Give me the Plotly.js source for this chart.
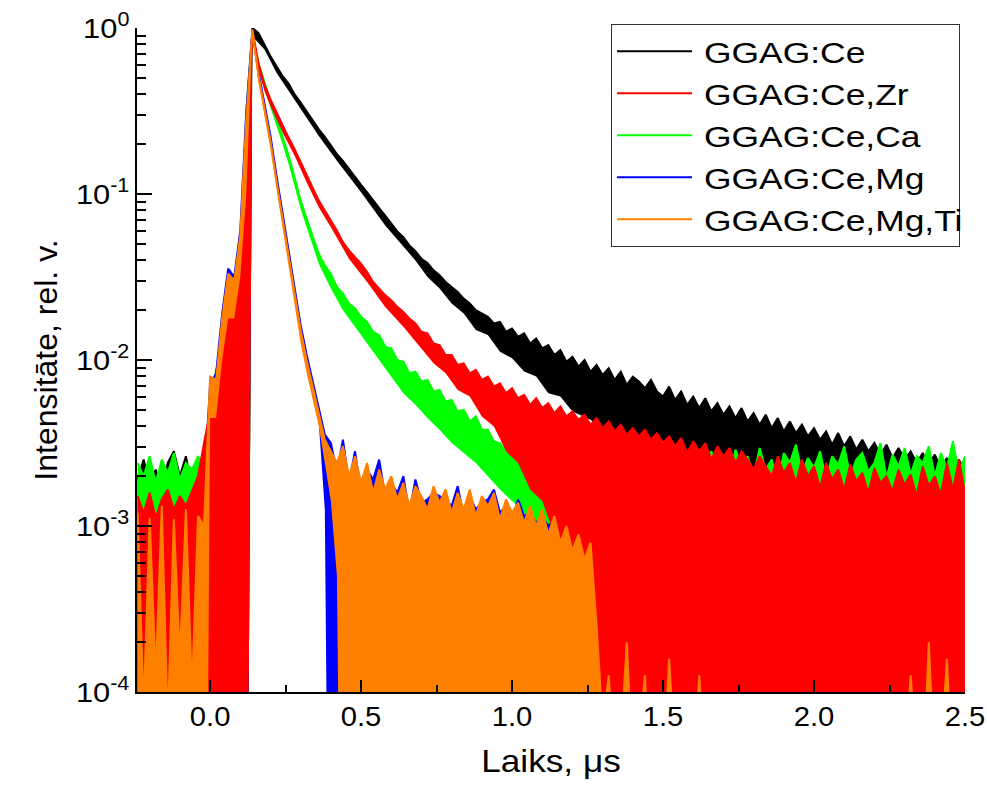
<!DOCTYPE html>
<html><head><meta charset="utf-8">
<script src="https://cdn.plot.ly/plotly-3.0.1.min.js"></script>
<style>html,body{margin:0;padding:0;background:#fff}#chart{width:987px;height:789px}</style>
</head><body><div id="chart"></div>
<script>
// shared time axis (μs)
const time = [-0.24,-0.22,-0.20,-0.18,-0.16,-0.14,-0.12,-0.10,-0.08,-0.06,
-0.04,-0.02,0.00,0.02,0.04,0.06,0.08,0.10,0.12,0.14,
0.16,0.18,0.20,0.22,0.24,0.26,0.28,0.30,0.32,0.34,
0.36,0.38,0.40,0.42,0.44,0.46,0.48,0.50,0.52,0.54,
0.56,0.58,0.60,0.62,0.64,0.66,0.68,0.70,0.72,0.74,
0.76,0.78,0.80,0.82,0.84,0.86,0.88,0.90,0.92,0.94,
0.96,0.98,1.00,1.02,1.04,1.06,1.08,1.10,1.12,1.14,
1.16,1.18,1.20,1.22,1.24,1.26,1.28,1.30,1.32,1.34,
1.36,1.38,1.40,1.42,1.44,1.46,1.48,1.50,1.52,1.54,
1.56,1.58,1.60,1.62,1.64,1.66,1.68,1.70,1.72,1.74,
1.76,1.78,1.80,1.82,1.84,1.86,1.88,1.90,1.92,1.94,
1.96,1.98,2.00,2.02,2.04,2.06,2.08,2.10,2.12,2.14,
2.16,2.18,2.20,2.22,2.24,2.26,2.28,2.30,2.32,2.34,
2.36,2.38,2.40,2.42,2.44,2.46,2.48,2.50];

const seriesNames = ['GGAG:Ce','GGAG:Ce,Zr','GGAG:Ce,Ca','GGAG:Ce,Mg','GGAG:Ce,Mg,Ti'];
const seriesColors = ['#000000','#ff0000','#00ff00','#0000ff','#ff8000'];

// upper edge of each noisy trace, log10 of intensity
const blackTopExp = [-2.72,-2.60,-2.75,-2.66,-2.80,-2.62,-2.55,-2.70,-2.58,-2.76,
-2.64,-2.70,-2.60,-2.50,-2.40,-2.20,-2.00,-1.80,-1.00,0.00,
-0.03,-0.10,-0.17,-0.23,-0.29,-0.335,-0.40,-0.45,-0.505,-0.56,
-0.61,-0.655,-0.705,-0.76,-0.80,-0.85,-0.90,-0.945,-0.99,-1.04,
-1.085,-1.13,-1.175,-1.225,-1.26,-1.31,-1.345,-1.39,-1.415,-1.46,
-1.49,-1.53,-1.56,-1.59,-1.63,-1.66,-1.70,-1.72,-1.74,-1.78,
-1.77,-1.83,-1.81,-1.86,-1.84,-1.90,-1.87,-1.93,-1.91,-1.97,
-1.94,-2.01,-1.98,-2.04,-2.00,-2.07,-2.03,-2.09,-2.05,-2.12,
-2.07,-2.15,-2.10,-2.13,-2.17,-2.12,-2.19,-2.22,-2.16,-2.24,
-2.19,-2.27,-2.22,-2.29,-2.23,-2.31,-2.26,-2.33,-2.28,-2.35,
-2.29,-2.37,-2.32,-2.39,-2.33,-2.41,-2.35,-2.43,-2.37,-2.44,
-2.39,-2.46,-2.41,-2.48,-2.43,-2.51,-2.44,-2.52,-2.46,-2.54,
-2.48,-2.55,-2.50,-2.57,-2.51,-2.59,-2.53,-2.60,-2.55,-2.62,
-2.56,-2.63,-2.57,-2.65,-2.59,-2.66,-2.60,-2.67];
const blackLowTime = [-0.24,0.125,0.14,0.18,0.22,0.26,0.30,0.36,0.42,0.50,0.58,0.64,0.68,0.72,0.76,0.80,0.84,0.88,0.92,0.96,1.00,1.04,1.08,1.12,1.16,1.20,1.26,1.32,1.40,1.50,1.70,2.00,2.50];
const blackLowExp = [-5,-5,-0.05,-0.13,-0.27,-0.38,-0.49,-0.65,-0.80,-0.99,-1.19,-1.32,-1.40,-1.50,-1.57,-1.66,-1.72,-1.82,-1.85,-1.95,-1.99,-2.07,-2.10,-2.20,-2.22,-2.31,-2.36,-2.45,-2.50,-2.62,-2.75,-2.90,-3.10];

const redTopExp = [-2.82,-2.92,-2.80,-2.95,-2.84,-2.78,-2.90,-2.82,-2.88,-2.79,
-2.70,-2.50,-2.30,-2.12,-1.95,-1.72,-1.66,-1.38,-0.80,-0.01,
-0.21,-0.34,-0.43,-0.51,-0.59,-0.66,-0.73,-0.81,-0.89,-0.97,
-1.04,-1.10,-1.16,-1.22,-1.29,-1.34,-1.38,-1.42,-1.47,-1.53,
-1.57,-1.61,-1.64,-1.68,-1.71,-1.75,-1.78,-1.83,-1.84,-1.90,
-1.91,-1.97,-1.97,-2.03,-2.02,-2.08,-2.06,-2.12,-2.10,-2.16,
-2.14,-2.20,-2.17,-2.23,-2.21,-2.27,-2.23,-2.29,-2.26,-2.32,
-2.28,-2.34,-2.31,-2.36,-2.33,-2.39,-2.35,-2.41,-2.37,-2.43,
-2.39,-2.45,-2.41,-2.46,-2.42,-2.48,-2.44,-2.50,-2.46,-2.52,
-2.47,-2.56,-2.49,-2.55,-2.50,-2.60,-2.52,-2.58,-2.53,-2.62,
-2.55,-2.60,-2.66,-2.58,-2.64,-2.70,-2.58,-2.68,-2.62,-2.74,
-2.60,-2.70,-2.64,-2.77,-2.62,-2.72,-2.66,-2.78,-2.63,-2.73,
-2.68,-2.80,-2.65,-2.74,-2.70,-2.79,-2.66,-2.75,-2.69,-2.82,
-2.64,-2.76,-2.70,-2.81,-2.62,-2.78,-2.60,-2.80];
const redLowTime = [-0.24,0.125,0.14,0.16,0.18,0.20,0.24,0.28,0.32,0.36,0.40,0.46,0.52,0.58,0.64,0.70,0.74,0.78,0.82,0.86,0.90,0.94,0.98,1.02,1.06,1.10,1.14,1.18,1.22,1.25,1.27,2.50];
const redLowExp = [-5,-5,-0.05,-0.25,-0.38,-0.47,-0.63,-0.77,-0.93,-1.08,-1.20,-1.39,-1.53,-1.68,-1.80,-1.93,-2.02,-2.08,-2.18,-2.22,-2.34,-2.40,-2.55,-2.62,-2.78,-2.85,-3.05,-3.20,-3.50,-4.20,-5,-5];

const greenTopExp = [-2.62,-2.70,-2.58,-2.74,-2.60,-2.68,-2.56,-2.72,-2.62,-2.66,
-2.58,-2.64,-2.40,-2.05,-2.20,-1.95,-1.85,-1.60,-0.50,-0.04,
-0.21,-0.33,-0.44,-0.54,-0.65,-0.77,-0.90,-1.04,-1.15,-1.26,
-1.36,-1.43,-1.48,-1.56,-1.60,-1.66,-1.69,-1.74,-1.77,-1.83,
-1.85,-1.92,-1.93,-2.00,-2.01,-2.08,-2.07,-2.13,-2.12,-2.19,
-2.18,-2.25,-2.24,-2.31,-2.30,-2.37,-2.34,-2.42,-2.42,-2.49,
-2.50,-2.55,-2.55,-2.60,-2.56,-2.62,-2.58,-2.48,-2.60,-2.66,
-2.55,-2.70,-2.58,-2.64,-2.52,-2.72,-2.60,-2.56,-2.68,-2.53,
-2.62,-2.70,-2.57,-2.66,-2.50,-2.74,-2.59,-2.63,-2.55,-2.71,
-2.58,-2.66,-2.52,-2.70,-2.60,-2.55,-2.68,-2.57,-2.72,-2.54,
-2.64,-2.58,-2.70,-2.53,-2.66,-2.60,-2.74,-2.56,-2.62,-2.51,
-2.68,-2.59,-2.65,-2.55,-2.72,-2.58,-2.63,-2.52,-2.70,-2.60,
-2.56,-2.67,-2.62,-2.50,-2.71,-2.57,-2.64,-2.53,-2.69,-2.58,
-2.62,-2.52,-2.70,-2.56,-2.65,-2.49,-2.68,-2.58];
const greenLowTime = [-0.24,0.125,0.14,0.16,0.18,0.20,0.22,0.24,0.26,0.28,0.30,0.32,0.34,0.36,0.40,0.44,0.48,0.52,0.56,0.60,0.64,0.68,0.72,0.76,0.80,0.84,0.88,0.92,0.96,1.00,1.04,1.08,1.12,2.50];
const greenLowExp = [-5,-5,-0.08,-0.25,-0.37,-0.48,-0.58,-0.70,-0.82,-0.95,-1.09,-1.20,-1.31,-1.42,-1.57,-1.70,-1.80,-1.90,-2.00,-2.10,-2.20,-2.27,-2.35,-2.42,-2.50,-2.56,-2.62,-2.70,-2.78,-2.85,-2.92,-3.10,-5,-5];

const blueTopExp = [-2.95,-3.02,-2.90,-3.08,-2.94,-2.88,-3.00,-2.92,-3.04,-2.90,
-2.96,-2.75,-2.15,-2.08,-1.72,-1.45,-1.50,-1.22,-0.50,-0.01,
-0.26,-0.45,-0.65,-0.89,-1.12,-1.34,-1.56,-1.79,-1.97,-2.13,
-2.27,-2.45,-2.50,-2.68,-2.48,-2.74,-2.55,-2.80,-2.66,-2.72,
-2.60,-2.82,-2.74,-2.80,-2.70,-2.92,-2.72,-2.86,-2.84,-2.80,
-2.82,-2.84,-2.88,-2.76,-2.94,-2.82,-2.90,-2.86,-2.84,-2.78,
-2.92,-2.88,-2.96,-2.84,-2.94,-2.92,-2.98,-2.94,-3.00,-2.96,
-3.05,-3.04,-3.12,-3.10,-3.18,-3.14,-3.35,-3.34,-3.45,-3.44,
-3.50,-3.42,-3.58,-3.48,-3.62,-3.46,-3.56,-3.60,-3.48,-3.64,
-3.50,-3.58,-3.46,-3.62,-3.52,-3.68,-3.48,-3.60,-3.54,-3.66,
-3.52,-3.64,-3.48,-3.58,-3.56,-3.70,-3.50,-3.62,-3.55,-3.67,
-3.53,-3.60,-3.48,-3.68,-3.56,-3.62,-3.51,-3.66,-3.58,-3.64,
-3.50,-3.68,-3.54,-3.60,-3.56,-3.72,-3.52,-3.64,-3.58,-3.66,
-3.54,-3.62,-3.50,-3.68,-3.56,-3.64,-3.53,-3.60];
const blueLowTime = [-0.24,0.125,0.14,0.16,0.18,0.20,0.22,0.24,0.26,0.28,0.30,0.32,0.34,0.36,0.38,0.39,2.50];
const blueLowExp = [-5,-5,-0.05,-0.31,-0.50,-0.70,-0.94,-1.17,-1.39,-1.62,-1.87,-2.05,-2.22,-2.38,-2.90,-5,-5];

const orangeTopExp = [-2.92,-4.10,-2.95,-3.90,-2.88,-4.20,-2.96,-3.80,-2.90,-4.00,
-2.94,-3.00,-2.10,-2.12,-1.75,-1.48,-1.52,-1.25,-0.55,-0.01,
-0.28,-0.48,-0.68,-0.92,-1.15,-1.37,-1.59,-1.82,-2.00,-2.16,
-2.30,-2.48,-2.55,-2.62,-2.52,-2.70,-2.58,-2.74,-2.62,-2.80,
-2.66,-2.78,-2.70,-2.84,-2.74,-2.88,-2.76,-2.82,-2.90,-2.76,
-2.86,-2.78,-2.92,-2.80,-2.90,-2.78,-2.94,-2.82,-2.88,-2.80,
-2.96,-2.84,-2.92,-2.86,-2.98,-2.88,-3.00,-2.90,-3.05,-2.94,
-3.10,-3.00,-3.15,-3.05,-3.20,-3.10,-3.60,-4.20,-3.90,-4.40,
-4.30,-3.70,-4.50,-4.30,-3.90,-4.60,-4.40,-4.50,-3.80,-4.40,
-4.60,-4.30,-4.50,-3.90,-4.60,-4.40,-4.50,-4.30,-4.60,-4.50,
-4.40,-4.60,-4.50,-4.30,-4.60,-4.40,-4.50,-4.60,-4.40,-4.50,
-4.60,-4.30,-4.50,-4.60,-4.40,-4.50,-4.60,-4.40,-4.50,-4.60,
-4.40,-4.50,-4.60,-4.40,-4.50,-4.30,-4.60,-4.50,-3.90,-4.40,
-4.60,-3.70,-4.50,-4.40,-3.80,-4.60,-4.50,-4.40];
const orangeLowTime = [-0.24,-0.01,0.00,0.02,0.04,0.06,0.08,0.10,0.12,0.14,0.16,0.18,0.20,0.22,0.24,0.26,0.28,0.30,0.32,0.34,0.36,0.38,0.40,0.42,0.43,2.50];
const orangeLowExp = [-5,-5,-2.35,-2.35,-2.00,-1.75,-1.75,-1.50,-1.00,-0.05,-0.33,-0.53,-0.73,-0.97,-1.20,-1.42,-1.65,-1.90,-2.08,-2.25,-2.40,-2.62,-2.85,-3.30,-5,-5];

// axis ticks
const xTickVals = [0, 0.5, 1.0, 1.5, 2.0, 2.5];
const xTickText = ['0.0','0.5','1.0','1.5','2.0','2.5'];
const xMinorVals = [-0.25, 0.25, 0.75, 1.25, 1.75, 2.25];
const yTickVals = [1e-4, 1e-3, 1e-2, 1e-1, 1];
const yTickText = ['10<sup>-4</sup>','10<sup>-3</sup>','10<sup>-2</sup>','10<sup>-1</sup>','10<sup>0</sup>'];
const yMinorVals = [];
[1e-4, 1e-3, 1e-2, 1e-1].forEach(d => { for (let m = 2; m <= 9; m++) yMinorVals.push(d * m); });

const toVal = a => a.map(e => Math.pow(10, e));

function seriesTraces(i, topExp, lowTime, lowExp, rank) {
  const color = seriesColors[i];
  const top = toVal(topExp);
  return [
    {x: lowTime, y: toVal(lowExp), mode: 'lines', line: {width: 0, color: color}, showlegend: false, hoverinfo: 'skip'},
    {x: time, y: top, mode: 'lines', line: {width: 0, color: color}, fill: 'tonexty', fillcolor: color, showlegend: false, hoverinfo: 'skip'},
    {x: time, y: top, mode: 'lines', line: {width: 2, color: color}, name: seriesNames[i], legendrank: rank}
  ];
}

// drawing order: black, green, blue, red, orange on top
const data = [].concat(
  seriesTraces(0, blackTopExp, blackLowTime, blackLowExp, 1),
  seriesTraces(2, greenTopExp, greenLowTime, greenLowExp, 3),
  seriesTraces(3, blueTopExp, blueLowTime, blueLowExp, 4),
  seriesTraces(1, redTopExp, redLowTime, redLowExp, 2),
  seriesTraces(4, orangeTopExp, orangeLowTime, orangeLowExp, 5)
);

const layout = {
  width: 987, height: 789,
  paper_bgcolor: '#fff', plot_bgcolor: '#fff',
  font: {family: 'Arial, "Liberation Sans", sans-serif', color: '#000'},
  margin: {l: 137, r: 22, t: 28, b: 97},
  showlegend: true,
  xaxis: {
    range: [-0.242, 2.5], tickmode: 'array', tickvals: xTickVals, ticktext: xTickText,
    ticks: 'inside', ticklen: 12, tickwidth: 2, tickcolor: '#000',
    showline: true, linewidth: 2, linecolor: '#000', showgrid: false, zeroline: false,
    tickfont: {size: 27},
    minor: {tickmode: 'array', tickvals: xMinorVals, ticks: 'inside', ticklen: 7, tickwidth: 2, tickcolor: '#000', showgrid: false},
    title: {text: 'Laiks, μs', font: {size: 32}, standoff: 18}
  },
  yaxis: {
    type: 'log', range: [-4, 0], tickmode: 'array', tickvals: yTickVals, ticktext: yTickText,
    ticks: 'inside', ticklen: 15, tickwidth: 2, tickcolor: '#000',
    showline: true, linewidth: 2, linecolor: '#000', showgrid: false, zeroline: false,
    tickfont: {size: 28},
    minor: {tickmode: 'array', tickvals: yMinorVals, ticks: 'inside', ticklen: 9, tickwidth: 2, tickcolor: '#000', showgrid: false},
    title: {text: 'Intensitāte, rel. v.', font: {size: 32}, standoff: 14}
  },
  legend: {
    x: 0.994, xanchor: 'right', y: 1.006, yanchor: 'top',
    traceorder: 'normal',
    bgcolor: '#fff', bordercolor: '#333', borderwidth: 1.2,
    font: {size: 30}, itemwidth: 82, tracegroupgap: 0
  }
};

function stretchText(selector, factor) {
  document.querySelectorAll(selector).forEach(function (t) {
    const w = t.getComputedTextLength();
    if (w > 0) {
      t.setAttribute('textLength', (w * factor).toFixed(1));
      t.setAttribute('lengthAdjust', 'spacingAndGlyphs');
    }
  });
}

function widenLegend(targetWidth) {
  const leg = document.querySelector('g.legend');
  if (!leg) return;
  const bg = leg.querySelector('rect.bg');
  if (!bg) return;
  const oldW = parseFloat(bg.getAttribute('width'));
  const delta = targetWidth - oldW;
  if (!(delta > 0)) return;
  bg.setAttribute('width', targetWidth);
  const m = /translate\(\s*([-\d.]+)[ ,]+([-\d.]+)\s*\)/.exec(leg.getAttribute('transform') || '');
  if (m) leg.setAttribute('transform', 'translate(' + (parseFloat(m[1]) - delta) + ',' + m[2] + ')');
  leg.querySelectorAll('[clip-path]').forEach(function (e) { e.removeAttribute('clip-path'); });
}

Plotly.newPlot('chart', data, layout, {displayModeBar: false, staticPlot: true}).then(function () {
  document.querySelectorAll('.legend .legendlines path').forEach(function (p) {
    p.setAttribute('d', 'M5,0h75');
  });
  stretchText('.legend text.legendtext', 1.18);
  widenLegend(348);
  stretchText('.xtitle', 1.1);
  stretchText('.xtick text', 1.08);
  stretchText('.ytick text', 1.1);
});
</script>
</body></html>
